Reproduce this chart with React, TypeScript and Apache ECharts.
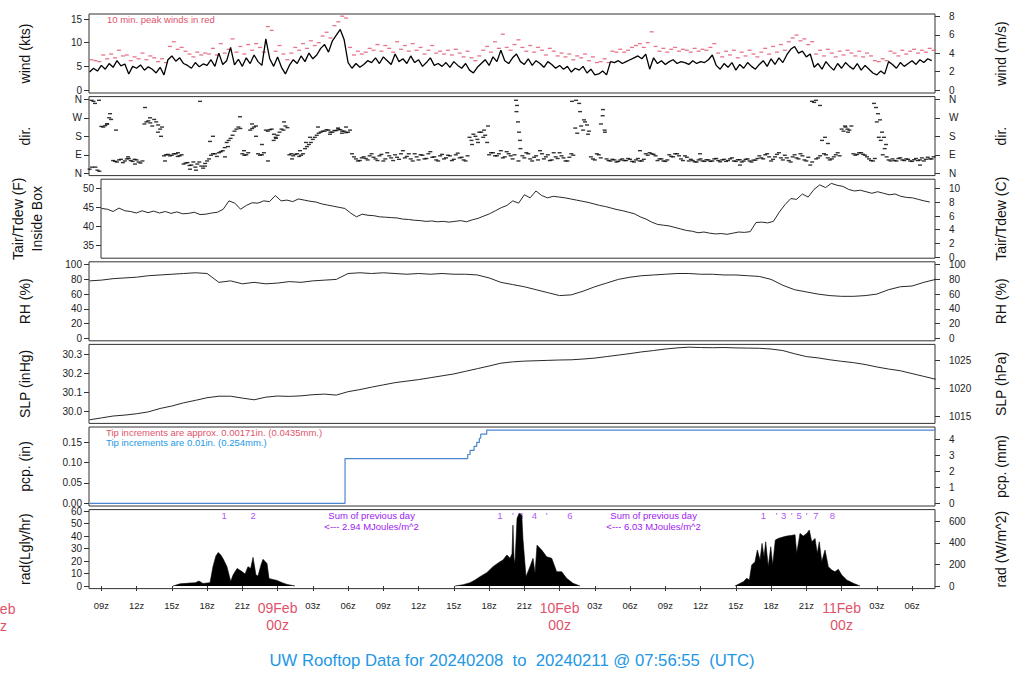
import React, { useEffect, useRef } from "react";
import * as echarts from "echarts";

// ---------- time axis (hours since 2024-02-08 00z) ----------
const X_MIN = 7.95;
const X_MAX = 79.95;
const xTickHours = [9, 12, 15, 18, 21, 24, 27, 30, 33, 36, 39, 42, 45, 48, 51, 54, 57, 60, 63, 66, 69, 72, 75, 78];

// ---------- wind (kts), every 20 min from 08z ----------
const windKts = [
  3.8, 4.6, 4.0, 5.2, 4.4, 5.6, 4.8, 6.2, 5.1, 5.5,
  3.4, 5.0, 4.6, 5.3, 4.2, 4.9, 4.4, 3.6, 4.8, 3.2,
  6.4, 7.2, 6.1, 6.8, 5.6, 5.2, 4.6, 5.8, 4.9, 5.5,
  5.2, 6.4, 5.0, 7.8, 5.4, 6.2, 9.0, 5.3, 6.5, 5.0,
  6.8, 5.6, 7.4, 6.0, 5.2, 10.8, 6.6, 5.0, 7.0, 4.8,
  3.4, 5.2, 6.4, 5.6, 7.2, 6.0, 7.8, 6.6, 7.4, 8.8,
  9.6, 8.0, 10.4, 11.6, 12.8, 10.6, 5.8, 4.6, 5.6, 4.8,
  5.4, 6.2, 5.8, 6.8, 5.6, 7.0, 6.2, 5.4, 7.6, 6.0,
  6.6, 5.6, 7.2, 5.8, 6.4, 5.0, 5.8, 6.8, 5.2, 5.6,
  5.0, 5.8, 4.8, 6.0, 5.2, 4.6, 5.6, 4.2, 3.6, 4.8,
  5.6, 6.4, 5.2, 7.0, 6.0, 8.4, 6.2, 5.6, 6.8, 7.6,
  6.0, 5.4, 6.6, 5.2, 6.2, 5.6, 4.8, 6.0, 5.4, 4.6,
  5.2, 4.4, 5.0, 3.8, 4.6, 4.2, 5.0, 3.6, 4.4, 3.2,
  3.4, 4.0, 3.2, 6.0, 5.8, 6.2, 5.6, 6.0, 6.4, 6.8,
  7.2, 6.6, 7.6, 4.4, 6.8, 5.6, 6.2, 5.4, 6.0, 6.4,
  5.6, 6.0, 5.8, 5.4, 6.2, 5.6, 6.0, 5.8, 6.4, 7.4,
  5.2, 4.4, 5.6, 4.8, 5.8, 4.2, 5.4, 4.6, 5.8, 5.0,
  4.4, 5.4, 6.2, 5.0, 6.6, 5.4, 6.8, 5.8, 7.4, 8.6,
  9.2, 7.8, 8.2, 7.0, 7.6, 4.8, 5.6, 4.4, 6.0, 5.0,
  4.2, 5.6, 4.6, 5.8, 5.0, 4.4, 5.6, 4.2, 5.2, 4.4,
  3.6, 3.2, 4.0, 3.4, 6.0, 5.4, 4.6, 5.8, 5.0, 5.6,
  6.2, 5.4, 6.4, 5.8, 6.6, 6.2,
];

// ---------- 10-min peak winds (kts) ----------
const peakKts = [
  6.4, 6.2, 6.0, 7.4, 6.6, 7.6, 6.8, 8.4, 7.2, 7.4,
  6.2, 7.0, 6.6, 7.8, 6.4, 7.2, 6.8, 6.0, 6.6, 5.8,
  9.2, 10.2, 8.6, 9.0, 8.2, 7.6, 7.0, 8.0, 7.4, 7.8,
  7.6, 8.8, 7.4, 9.8, 7.8, 8.6, 10.8, 8.0, 9.2, 7.6,
  9.6, 8.4, 9.8, 9.0, 8.0, 13.4, 12.6, 8.2, 9.4, 7.6,
  6.4, 7.8, 9.0, 8.4, 9.8, 8.8, 10.4, 9.4, 10.0, 11.4,
  12.2, 11.0, 13.6, 14.4, 15.6, 15.2, 9.0, 7.4, 8.2, 7.6,
  8.0, 8.8, 8.4, 9.6, 8.2, 9.4, 8.8, 8.0, 10.2, 8.6,
  9.4, 8.2, 9.8, 8.4, 9.0, 7.6, 8.4, 9.4, 7.8, 8.2,
  7.6, 8.4, 7.4, 8.6, 7.8, 7.0, 8.2, 6.8, 6.2, 7.2,
  8.4, 9.2, 8.0, 10.2, 8.8, 11.8, 9.0, 8.4, 9.6, 10.6,
  9.0, 8.2, 9.4, 8.0, 9.0, 8.4, 7.4, 8.8, 8.2, 7.2,
  7.8, 7.0, 7.6, 6.4, 7.2, 6.8, 7.6, 6.2, 7.0, 5.8,
  6.0, 6.6, 5.8, 8.2, 8.0, 8.6, 8.0, 8.4, 9.0, 9.4,
  9.8, 9.0, 10.0, 12.3, 9.2, 8.2, 8.8, 8.0, 8.6, 9.0,
  8.2, 8.6, 8.4, 8.0, 8.8, 8.2, 8.6, 8.4, 9.0, 9.8,
  7.8, 7.0, 8.2, 7.4, 8.4, 6.8, 8.0, 7.2, 8.4, 7.6,
  7.0, 8.0, 8.8, 7.6, 9.2, 8.0, 9.6, 8.4, 10.2, 11.0,
  11.6, 10.4, 10.8, 9.6, 10.2, 7.6, 8.4, 7.2, 8.6, 7.8,
  7.0, 8.2, 7.4, 8.4, 7.8, 7.2, 8.2, 7.0, 7.8, 7.2,
  6.2, 6.0, 6.6, 6.2, 8.2, 7.8, 7.2, 8.4, 7.6, 8.2,
  8.6, 7.8, 8.4, 8.0, 8.8, 8.4,
];

// ---------- wind direction (deg), two samples per 20 min ----------
const dirDeg = [
  20, 350, 15, 228, 232, 270, 62, 55, 68, 60,
  72, 58, 65, 50, 240, 255, 230, 250, 215, 85,
  92, 88, 95, 85, 45, 52, 40, 30, 55, 25,
  60, 88, 95, 100, 110, 150, 170, 205, 225, 95,
  90, 210, 225, 95, 90, 210, 212, 160, 185, 215,
  230, 90, 85, 95, 88, 120, 140, 165, 185, 200,
  205, 210, 200, 208, 212, 205, 200, 95, 70, 62,
  80, 65, 95, 70, 85, 60, 100, 75, 90, 68,
  110, 82, 70, 95, 65, 88, 72, 105, 80, 60,
  92, 75, 85, 68, 98, 78, 60, 175, 190, 165,
  200, 185, 90, 100, 85, 110, 80, 95, 70, 300,
  120, 75, 95, 60, 85, 110, 70, 90, 65, 80,
  100, 75, 60, 95, 220, 340, 210, 235, 80, 65,
  90, 280, 70, 60, 65, 58, 70, 62, 68, 55,
  72, 60, 95, 100, 92, 62, 70, 58, 90, 80,
  95, 70, 85, 60, 62, 55, 70, 58, 65, 60,
  72, 56, 68, 62, 75, 58, 66, 60, 70, 55,
  64, 85, 70, 95, 60, 80, 100, 65, 75, 55,
  90, 70, 85, 60, 40, 345, 75, 160, 90, 65,
  80, 100, 215, 225, 210, 95, 92, 100, 88, 70,
  60, 250, 160, 120, 65, 70, 60, 75, 62, 68,
  58, 72, 65, 60, 78, 70,
];
const dirDegB = [
  355, 30, 10, 225, 240, 262, 58, 65, 52, 70,
  62, 68, 55, 60, 250, 245, 262, 235, 225, 90,
  85, 95, 82, 90, 50, 38, 55, 45, 35, 48,
  70, 95, 82, 105, 125, 160, 185, 215, 218, 88,
  100, 218, 230, 88, 100, 205, 215, 175, 200, 210,
  222, 95, 92, 82, 95, 130, 150, 175, 195, 205,
  212, 200, 208, 215, 205, 198, 210, 80, 60, 75,
  72, 85, 78, 62, 92, 70, 85, 62, 78, 95,
  75, 95, 60, 80, 90, 70, 95, 78, 65, 85,
  70, 88, 62, 90, 75, 65, 85, 160, 180, 200,
  175, 150, 100, 85, 95, 75, 105, 85, 90, 60,
  85, 100, 70, 78, 65, 95, 80, 62, 100, 72,
  85, 60, 78, 88, 195, 230, 250, 205, 70, 95,
  75, 210, 62, 68, 55, 65, 62, 72, 58, 65,
  60, 68, 88, 95, 85, 70, 60, 65, 82, 95,
  85, 62, 78, 68, 56, 65, 60, 66, 58, 70,
  62, 65, 58, 70, 60, 66, 55, 68, 60, 64,
  72, 75, 90, 80, 68, 92, 75, 88, 62, 80,
  75, 95, 65, 78, 55, 70, 85, 95, 75, 70,
  90, 85, 205, 215, 230, 88, 100, 92, 80, 62,
  72, 175, 90, 80, 60, 62, 72, 65, 70, 60,
  66, 62, 75, 68, 70, 80,
];
const dirExtraHours = [
  8.21, 8.46, 8.8, 9.48, 9.74, 10.25, 11.27, 11.86, 12.72, 13.14, 13.82, 14.08, 14.42, 15.52, 17.4, 16.55,
  17.06, 17.82, 18.25, 18.5, 19.52, 19.78, 20.8, 21.14, 21.82, 22.16, 22.67, 23.18, 23.69, 23.86, 24.55,
  25.23, 25.91, 26.42, 26.76, 27.44, 28.46, 29.14, 29.48, 29.82, 40.55, 41.06, 41.57, 41.91, 44.29, 44.38,
  44.46, 44.55, 44.63, 49.06, 49.4, 49.74, 50.08, 50.42, 51.52, 51.69, 51.86, 54.84, 59.95, 63.35, 69.48,
  69.82, 70.16, 70.59, 70.84, 72.29, 72.55, 74.76, 74.93, 75.1, 75.27, 75.44, 75.61, 75.78, 78.67,
];
const dirExtraDeg = [
  30, 340, 355, 240, 290, 210, 80, 45, 320, 270, 200, 180, 60, 100, 350, 20,
  15, 35, 155, 180, 80, 130, 275, 110, 240, 180, 140, 60, 190, 170, 250,
  70, 110, 150, 175, 225, 190, 220, 195, 225, 140, 150, 210, 230, 355, 330,
  250, 200, 160, 350, 355, 300, 260, 190, 240, 310, 200, 110, 95, 40, 350,
  355, 330, 175, 145, 230, 200, 340, 320, 290, 260, 200, 175, 140, 40,
];
const dirTickValues = [0, 90, 180, 270, 360];
const dirTickNames = ["N", "E", "S", "W", "N"];

// ---------- air temperature (F), every 30 min from 08z ----------
const tempF = [
  44.8, 44.6, 44.0, 44.9, 44.2, 44.0, 43.6, 44.2, 43.7, 44.1,
  43.6, 44.0, 43.5, 43.9, 43.4, 43.5, 43.8, 43.2, 43.3, 43.6,
  43.8, 44.6, 46.8, 46.2, 44.6, 45.6, 46.3, 46.2, 46.8, 46.6,
  48.2, 46.8, 47.0, 46.6, 47.3, 47.0, 46.7, 46.5, 46.0, 45.7,
  45.4, 45.1, 44.8, 43.6, 42.6, 43.3, 43.0, 42.9, 42.6, 42.5,
  42.4, 42.3, 42.0, 41.9, 41.7, 41.6, 41.4, 41.5, 41.3, 41.4,
  41.2, 41.4, 41.6, 41.3, 41.8, 42.2, 42.8, 43.4, 44.2, 45.0,
  45.6, 46.8, 46.2, 48.4, 47.6, 49.4, 48.2, 47.6, 48.0, 47.8,
  47.6, 47.3, 47.0, 46.7, 46.4, 46.0, 45.6, 45.3, 44.9, 44.5,
  44.2, 43.8, 43.4, 42.6, 42.0, 41.2, 40.6, 40.4, 40.2, 39.8,
  39.4, 39.0, 38.8, 38.4, 38.6, 38.3, 38.1, 38.2, 38.0, 38.3,
  38.6, 38.5, 38.7, 41.1, 41.2, 41.0, 41.4, 43.8, 45.8, 47.4,
  47.2, 48.6, 47.8, 49.8, 51.0, 50.3, 51.4, 50.9, 50.6, 49.8,
  49.4, 49.6, 49.2, 48.8, 49.2, 48.8, 48.4, 48.6, 48.0, 47.7,
  47.6, 47.2, 46.8, 46.5,
];

// ---------- relative humidity (%), hourly from 08z ----------
const rhPct = [
  78, 79, 81, 82, 83, 85, 86, 87, 88, 89,
  88, 76, 78, 74, 76, 74, 75, 77, 76, 78,
  79, 80, 88, 89, 88, 89, 88, 87, 88, 87,
  88, 87, 87, 86, 82, 76, 73, 70, 66, 62,
  58, 59, 64, 70, 75, 80, 83, 85, 86, 87,
  88, 88, 87, 87, 86, 86, 85, 84, 80, 72,
  66, 63, 60, 58, 57, 57, 58, 60, 66, 70,
  71, 76, 80,
];

// ---------- sea level pressure (inHg), hourly from 08z ----------
const slpInHg = [
  29.955, 29.965, 29.975, 29.98, 29.987, 29.997, 30.015, 30.028, 30.045, 30.058,
  30.072, 30.08, 30.08, 30.07, 30.061, 30.075, 30.081, 30.079, 30.082, 30.088,
  30.091, 30.086, 30.104, 30.115, 30.128, 30.14, 30.152, 30.16, 30.168, 30.178,
  30.188, 30.198, 30.212, 30.226, 30.24, 30.255, 30.262, 30.266, 30.268, 30.27,
  30.272, 30.273, 30.277, 30.282, 30.29, 30.298, 30.306, 30.315, 30.322, 30.33,
  30.336, 30.34, 30.338, 30.337, 30.338, 30.336, 30.335, 30.334, 30.33, 30.322,
  30.305, 30.29, 30.283, 30.273, 30.265, 30.258, 30.248, 30.235, 30.224, 30.215,
  30.2, 30.185, 30.17,
];

// ---------- accumulated precipitation (in) ----------
const pcpHours = [8, 29.74, 40.18, 40.38, 40.72, 40.95, 41.17, 41.29, 41.8, 80];
const pcpInches = [0, 0.11, 0.12, 0.13, 0.14, 0.15, 0.16, 0.17, 0.18, 0.18];

// ---------- solar radiation (W/m^2) ----------
const radDay1Hours = [15.1, 15.7, 16.3, 16.55, 17.0, 17.31, 17.65, 18.0, 18.25, 18.5, 18.75, 18.95, 19.15, 19.35, 19.69, 20.01, 20.21, 20.55, 20.97, 21.23, 21.48, 21.71, 21.91, 22.16, 22.33, 22.6, 22.76, 23.1, 23.27, 23.6, 23.95, 24.4, 24.8, 25.48];
const radDay1W = [0, 20, 25, 28, 30, 46, 23, 28, 31, 180, 280, 312, 290, 256, 180, 41, 102, 163, 134, 112, 180, 163, 266, 102, 93, 200, 248, 209, 69, 60, 52, 30, 15, 0];
const radDay2Hours = [39.1, 39.8, 40.38, 40.8, 41.23, 41.8, 42.33, 42.93, 43.18, 43.52, 43.78, 43.95, 44.03, 44.12, 44.2, 44.38, 44.55, 44.78, 44.89, 45.14, 45.48, 45.74, 45.91, 46.08, 46.48, 46.9, 47.33, 47.75, 48.18, 48.6, 49.14, 49.74];
const radDay2W = [0, 12, 31, 55, 87, 124, 180, 226, 241, 288, 257, 300, 566, 260, 210, 628, 674, 659, 427, 87, 180, 257, 118, 380, 334, 272, 257, 133, 133, 71, 25, 0];
const radDay3Hours = [62.93, 63.64, 63.93, 64.15, 64.35, 64.63, 64.83, 65.06, 65.23, 65.4, 65.54, 65.76, 65.97, 66.14, 66.36, 66.61, 67.0, 67.33, 67.7, 68.04, 68.18, 68.46, 68.74, 69.03, 69.25, 69.46, 69.74, 69.93, 70.1, 70.31, 70.59, 70.87, 71.16, 71.44, 71.72, 72.01, 72.44, 73.0, 73.57];
const radDay3W = [0, 40, 71, 56, 195, 226, 334, 241, 396, 272, 411, 180, 365, 195, 427, 442, 455, 464, 470, 476, 303, 489, 464, 489, 520, 411, 442, 303, 411, 226, 334, 180, 148, 133, 155, 102, 56, 25, 0];
const radMarkHours = [19.46, 21.93, 42.93, 44.03, 44.69, 45.85, 46.9, 48.88, 65.34, 66.48, 67.07, 67.75, 68.38, 69.03, 69.82, 71.21];
const radMarkLabels = ["1", "2", "1", "'", "3", "4", "'", "6", "1", "'", "3", "'", "5", "'", "7", "8"];
const radSumHours = [32, 56];
const radSumTexts = ["2.94", "6.03"];

// ---------- layout ----------
const FONT = "'Liberation Sans', Arial, Helvetica, sans-serif";
const RED = "#DF536B";
const BLUE = "#2297E6";
const PURPLE = "#A020F0";
const GRID_LEFT = 89;
const GRID_W = 846;
const PANEL_H = 79;
const PANEL_TOPS = [14, 96.6, 179.2, 261.8, 344.4, 427, 509.6];

const KTS_PER_MS = 1.94384;
const HPA_PER_INHG = 33.8639;
const MM_PER_IN = 25.4;
const W_PER_LGLYHR = 11.622;

const hx = (h: number) => GRID_LEFT + ((h - X_MIN) / (X_MAX - X_MIN)) * GRID_W;
const pad2 = (n: number) => (n < 10 ? "0" + n : "" + n);

function yAxis(gridIndex: number, side: "left" | "right", min: number, max: number, ticks: number[], name: string, fmt?: (v: number) => string, gap?: number) {
  return {
    type: "value",
    gridIndex,
    position: side,
    min,
    max,
    axisLine: { show: false },
    axisTick: { show: true, length: 5, customValues: ticks, lineStyle: { color: "#333", width: 1 } },
    axisLabel: {
      customValues: ticks,
      margin: side === "left" ? 7 : 14,
      fontSize: 10,
      color: "#222",
      fontFamily: FONT,
      formatter: fmt ? (v: number) => fmt(v) : (v: number) => String(v),
    },
    splitLine: { show: false },
    name,
    nameLocation: "middle",
    nameRotate: 90,
    nameGap: gap ?? (side === "left" ? 55 : 56),
    nameTextStyle: { fontSize: 14, color: "#111", fontFamily: FONT, lineHeight: 19 },
  };
}

export default function App() {
  const ref = useRef<HTMLDivElement>(null);

  useEffect(() => {
    document.body.style.margin = "0";
    if (!ref.current) return;
    const chart = echarts.init(ref.current, undefined, { renderer: "svg" });

    const grids = PANEL_TOPS.map((top) => ({
      left: GRID_LEFT,
      width: GRID_W,
      top,
      height: PANEL_H,
      show: true,
      borderColor: "#333",
      borderWidth: 1,
      backgroundColor: "transparent",
    }));

    const xAxes = PANEL_TOPS.map((_, i) => ({
      type: "value",
      gridIndex: i,
      min: X_MIN,
      max: X_MAX,
      show: i === PANEL_TOPS.length - 1,
      axisLine: { show: false },
      axisTick: { show: true, length: 5, customValues: xTickHours, lineStyle: { color: "#333" } },
      axisLabel: {
        customValues: xTickHours,
        margin: 11,
        fontSize: 9.5,
        lineHeight: 12,
        color: "#222",
        fontFamily: FONT,
        formatter: (v: number) => {
          const hh = Math.round(v) % 24;
          if (hh === 0) {
            const day = 8 + Math.round(v) / 24;
            return `{d|${pad2(day)}Feb}\n{d|00z}`;
          }
          return pad2(hh) + "z";
        },
        rich: { d: { fontSize: 14, lineHeight: 17, color: RED, fontFamily: FONT } },
      },
      splitLine: { show: false },
    }));

    const windMin = -0.63, windMax = 16.06;
    const dirMin = -11.2, dirMax = 373.1;
    const tMin = 31.71, tMax = 52.5;
    const rhMin = -3.4, rhMax = 103.9;
    const slpMin = 29.9359, slpMax = 30.3546;
    const pcpMin = -0.0066, pcpMax = 0.1876;
    const radMin = -2.08, radMax = 61.12;
    const dirFmt = (v: number) => dirTickNames[dirTickValues.indexOf(v)] ?? "";

    const yAxes = [
      yAxis(0, "left", windMin, windMax, [0, 5, 10, 15], "wind (kts)"),
      yAxis(0, "right", windMin / KTS_PER_MS, windMax / KTS_PER_MS, [0, 2, 4, 6, 8], "wind (m/s)"),
      yAxis(1, "left", dirMin, dirMax, dirTickValues, "dir.", dirFmt),
      yAxis(1, "right", dirMin, dirMax, dirTickValues, "dir.", dirFmt),
      yAxis(2, "left", tMin, tMax, [35, 40, 45, 50], "Tair/Tdew (F)\nInside Box"),
      yAxis(2, "right", ((tMin - 32) * 5) / 9, ((tMax - 32) * 5) / 9, [0, 2, 4, 6, 8, 10], "Tair/Tdew (C)"),
      yAxis(3, "left", rhMin, rhMax, [0, 20, 40, 60, 80, 100], "RH (%)"),
      yAxis(3, "right", rhMin, rhMax, [0, 20, 40, 60, 80, 100], "RH (%)"),
      yAxis(4, "left", slpMin, slpMax, [30.0, 30.1, 30.2, 30.3], "SLP (inHg)", (v) => v.toFixed(1)),
      yAxis(4, "right", slpMin * HPA_PER_INHG, slpMax * HPA_PER_INHG, [1015, 1020, 1025], "SLP (hPa)"),
      yAxis(5, "left", pcpMin, pcpMax, [0, 0.05, 0.1, 0.15], "pcp. (in)", (v) => v.toFixed(2)),
      yAxis(5, "right", pcpMin * MM_PER_IN, pcpMax * MM_PER_IN, [0, 1, 2, 3, 4], "pcp. (mm)"),
      yAxis(6, "left", radMin, radMax, [0, 10, 20, 30, 40, 50, 60], "rad(Lgly/hr)"),
      yAxis(6, "right", radMin * W_PER_LGLYHR, radMax * W_PER_LGLYHR, [0, 200, 400, 600], "rad (W/m^2)"),
    ];

    const thinLine = (color: string, width = 1) => ({ color, width });

    const radSeries = [
      [radDay1Hours, radDay1W],
      [radDay2Hours, radDay2W],
      [radDay3Hours, radDay3W],
    ].map(([hs, ws]) => ({
      type: "line",
      xAxisIndex: 6,
      yAxisIndex: 13,
      data: (hs as number[]).map((h, i) => [h, (ws as number[])[i]]),
      symbol: "none",
      lineStyle: thinLine("#000", 0.6),
      areaStyle: { color: "#000", opacity: 1 },
      silent: true,
    }));

    const option: any = {
      animation: false,
      backgroundColor: "#fff",
      textStyle: { fontFamily: FONT },
      grid: grids,
      xAxis: xAxes,
      yAxis: yAxes,
      series: [
        {
          type: "scatter",
          xAxisIndex: 0,
          yAxisIndex: 0,
          data: peakKts.map((v, k) => [8 + k / 3 + 1 / 6, v]),
          symbol: "rect",
          symbolSize: [4, 1.3],
          itemStyle: { color: RED },
          silent: true,
        },
        {
          type: "line",
          xAxisIndex: 0,
          yAxisIndex: 0,
          data: windKts.map((v, k) => [8 + k / 3, v]),
          symbol: "none",
          lineStyle: thinLine("#000", 1.3),
          silent: true,
        },
        {
          type: "scatter",
          xAxisIndex: 1,
          yAxisIndex: 2,
          data: [
            ...dirDeg.map((v, k) => [8 + k / 3, v]),
            ...dirDegB.map((v, k) => [8 + k / 3 + 1 / 6, v]),
            ...dirExtraHours.map((h, i) => [h, dirExtraDeg[i]]),
          ],
          symbol: "rect",
          symbolSize: [4, 1.4],
          itemStyle: { color: "#000" },
          silent: true,
        },
        {
          type: "line",
          xAxisIndex: 2,
          yAxisIndex: 4,
          data: tempF.map((v, j) => [8 + j / 2, v]),
          symbol: "none",
          lineStyle: thinLine("#111", 0.9),
          silent: true,
        },
        {
          type: "line",
          xAxisIndex: 3,
          yAxisIndex: 6,
          data: rhPct.map((v, h) => [8 + h, v]),
          symbol: "none",
          lineStyle: thinLine("#111", 0.9),
          silent: true,
        },
        {
          type: "line",
          xAxisIndex: 4,
          yAxisIndex: 8,
          data: slpInHg.map((v, h) => [8 + h, v]),
          symbol: "none",
          lineStyle: thinLine("#111", 0.9),
          silent: true,
        },
        {
          type: "line",
          xAxisIndex: 5,
          yAxisIndex: 10,
          data: pcpHours.map((h, i) => [h, pcpInches[i]]),
          step: "end",
          symbol: "none",
          lineStyle: thinLine("#4a86d0", 1.2),
          silent: true,
        },
        ...radSeries,
        {
          type: "scatter",
          xAxisIndex: 6,
          yAxisIndex: 13,
          data: radMarkHours.map((h) => [h, 660]),
          symbolSize: 0,
          label: {
            show: true,
            position: "inside",
            formatter: (p: any) => radMarkLabels[p.dataIndex],
            color: PURPLE,
            fontSize: 9.5,
            fontFamily: FONT,
          },
          silent: true,
        },
      ],
      graphic: [
        {
          type: "text",
          x: 512,
          y: 660,
          style: {
            text: "UW Rooftop Data for 20240208  to  20240211 @ 07:56:55  (UTC)",
            fill: BLUE,
            fontSize: 16.7,
            fontFamily: FONT,
            align: "center",
            verticalAlign: "middle",
          },
        },
        {
          type: "text",
          x: 107,
          y: 19,
          style: { text: "10 min. peak winds in red", fill: RED, fontSize: 9.5, fontFamily: FONT, align: "left", verticalAlign: "middle" },
        },
        {
          type: "text",
          x: 106,
          y: 432.7,
          style: { text: "Tip increments are approx. 0.00171in. (0.0435mm.)", fill: RED, fontSize: 9.5, fontFamily: FONT, align: "left", verticalAlign: "middle" },
        },
        {
          type: "text",
          x: 106,
          y: 442,
          style: { text: "Tip increments are 0.01in. (0.254mm.)", fill: BLUE, fontSize: 9.5, fontFamily: FONT, align: "left", verticalAlign: "middle" },
        },
        ...radSumHours.map((h, i) => ({
          type: "text",
          x: hx(h),
          y: 510,
          style: {
            text: `Sum of previous day\n<--- ${radSumTexts[i]} MJoules/m^2`,
            fill: PURPLE,
            fontSize: 9.5,
            lineHeight: 11,
            fontFamily: FONT,
            align: "center",
            verticalAlign: "top",
          },
        })),
        {
          type: "text",
          x: hx(0),
          y: 600,
          style: {
            text: "08Feb\n00z",
            fill: RED,
            fontSize: 14,
            lineHeight: 17,
            fontFamily: FONT,
            align: "center",
            verticalAlign: "top",
          },
        },
      ],
    };

    chart.setOption(option);
    return () => chart.dispose();
  }, []);

  return <div ref={ref} style={{ width: 1024, height: 700 }} />;
}
